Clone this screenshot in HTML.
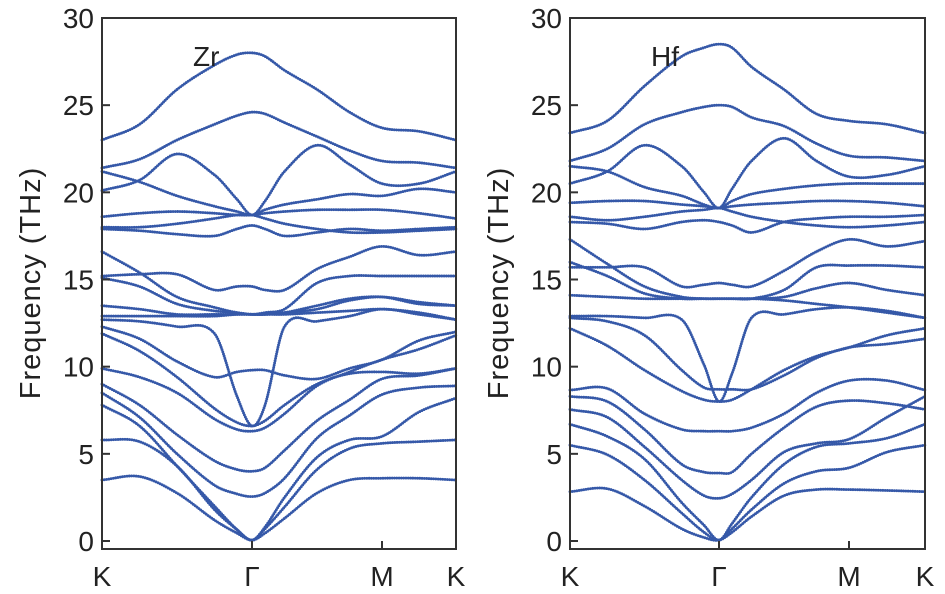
<!DOCTYPE html>
<html><head><meta charset="utf-8"><style>
html,body{margin:0;padding:0;background:#fff;}
svg{display:block;font-family:"Liberation Sans",Arial,sans-serif;}
</style></head><body>
<svg id="chart" width="945" height="594" viewBox="0 0 945 594" xmlns="http://www.w3.org/2000/svg"></svg>
<script>
// Shared data
const qPoints = [0, 0.25, 0.5, 0.75, 0.9, 1, 1.1, 1.25, 1.5, 1.75, 2, 2.5, 3];
const kLabels = ["K", "Γ", "M", "K"];
const yTicks = [0, 5, 10, 15, 20, 25, 30];

// Zr bands (THz) at qPoints
const zrBands = [
 [23.0,23.9,25.9,27.3,27.9,28.0,27.8,27.0,25.9,24.6,23.7,23.5,23.0],
 [21.4,21.9,23.0,23.9,24.4,24.6,24.5,24.0,23.2,22.4,21.8,21.7,21.4],
 [20.1,20.7,22.2,21.0,19.6,18.7,19.5,21.2,22.7,21.6,20.5,20.5,21.2],
 [21.2,20.6,19.8,19.2,18.9,18.7,19.0,19.3,19.6,19.9,19.8,20.2,20.0],
 [18.6,18.8,18.9,18.8,18.7,18.7,18.8,18.9,19.0,19.0,19.0,18.8,18.5],
 [18.0,18.0,18.2,18.5,18.7,18.7,18.5,18.2,17.9,17.7,17.7,17.8,17.9],
 [17.9,17.8,17.6,17.5,17.9,18.1,17.9,17.5,17.7,17.9,17.8,17.9,18.0],
 [16.6,15.4,14.0,13.4,13.1,13.0,13.0,13.1,13.3,13.8,14.0,13.7,13.5],
 [15.2,15.3,15.3,14.4,14.6,14.6,14.4,14.4,15.6,16.3,16.9,16.4,16.6],
 [15.1,14.6,13.6,13.2,13.1,13.0,13.1,13.3,14.8,15.2,15.2,15.2,15.2],
 [13.5,13.3,13.0,13.0,13.0,13.0,13.0,13.1,13.5,13.9,14.0,13.6,13.5],
 [12.9,12.9,12.9,12.9,13.0,13.0,13.0,13.0,13.1,13.2,13.3,13.1,12.7],
 [12.7,12.6,12.3,11.9,8.3,6.6,7.8,12.3,12.6,12.9,13.3,13.0,12.7],
 [12.3,11.6,10.3,9.4,9.7,9.8,9.8,9.5,9.3,9.9,10.4,11.5,12.0],
 [11.9,10.9,9.4,7.6,6.8,6.6,6.9,7.8,9.0,9.6,9.7,9.6,9.9],
 [9.9,9.4,8.5,7.0,6.4,6.3,6.5,7.3,8.9,9.7,10.4,11.0,11.8],
 [9.0,7.8,6.1,4.6,4.1,4.0,4.2,5.2,6.9,8.1,9.3,9.5,9.9],
 [8.5,7.1,5.0,3.2,2.7,2.55,2.75,3.6,5.9,7.2,8.4,8.8,8.9],
 [7.8,6.6,4.3,2.0,0.65,0.05,0.8,2.5,4.8,5.8,6.0,7.4,8.2],
 [5.8,5.7,4.3,1.8,0.65,0.05,0.7,1.95,4.1,5.3,5.6,5.7,5.8],
 [3.5,3.7,2.75,1.2,0.45,0.05,0.45,1.3,2.75,3.5,3.6,3.6,3.5]
];

// Hf bands (THz) at qPoints
const hfBands = [
 [23.4,24.1,26.1,27.8,28.3,28.5,28.3,27.2,25.9,24.5,24.1,23.9,23.4],
 [21.8,22.5,23.9,24.6,24.9,25.0,24.9,24.3,23.8,22.8,22.1,22.0,21.8],
 [20.5,21.2,22.7,21.5,20.0,19.1,20.2,21.8,23.1,21.8,20.9,21.0,21.5],
 [21.5,21.2,20.3,19.8,19.3,19.1,19.5,19.9,20.2,20.4,20.5,20.5,20.5],
 [19.4,19.5,19.5,19.3,19.2,19.1,19.2,19.3,19.4,19.5,19.5,19.4,19.2],
 [18.6,18.4,18.6,18.9,19.0,19.1,18.9,18.6,18.3,18.1,18.0,18.1,18.3],
 [18.3,18.2,17.9,18.3,18.4,18.3,18.1,17.7,18.3,18.5,18.6,18.6,18.7],
 [17.3,15.9,14.6,14.0,13.9,13.9,13.9,13.9,14.0,14.5,14.8,14.4,14.1],
 [15.7,15.7,15.7,14.6,14.7,14.8,14.7,14.6,15.5,16.6,17.3,16.9,17.2],
 [16.0,15.2,14.2,13.9,13.9,13.9,13.9,13.9,14.4,15.7,15.8,15.8,15.7],
 [14.1,14.0,13.9,13.9,13.9,13.9,13.9,13.9,13.8,13.6,13.4,13.1,12.8],
 [12.9,12.9,12.8,12.7,10.1,8.0,9.6,12.8,13.0,13.3,13.4,13.2,12.8],
 [12.8,12.6,11.8,9.8,8.8,8.7,8.7,8.7,9.5,10.5,11.1,11.3,11.6],
 [12.2,11.2,9.8,8.6,8.1,8.0,8.1,8.7,9.8,10.6,11.1,11.8,12.2],
 [8.66,8.75,7.3,6.4,6.3,6.3,6.3,6.5,7.3,8.5,9.2,9.2,8.66],
 [8.3,8.0,6.4,4.4,3.95,3.9,3.95,5.0,6.5,7.7,8.05,7.9,7.55],
 [7.55,7.1,5.4,3.5,2.6,2.45,2.7,3.5,5.1,5.6,5.84,7.1,8.3],
 [6.7,6.0,4.7,2.2,0.9,0.05,1.0,2.5,4.4,5.4,5.6,5.9,6.7],
 [5.5,4.95,3.5,1.6,0.5,0.05,0.7,1.8,3.3,4.0,4.2,5.1,5.5],
 [2.83,3.0,2.0,0.7,0.2,0.05,0.5,1.4,2.6,2.95,2.95,2.9,2.83]
];

const NS = "http://www.w3.org/2000/svg";
const svg = document.getElementById("chart");
function mk(tag, attrs, parent){
  const e = document.createElementNS(NS, tag);
  for (const k in attrs) e.setAttribute(k, attrs[k]);
  (parent || svg).appendChild(e);
  return e;
}

const panels = [
  {name:"zr", label:"Zr", labelX:193, bands:zrBands, x0:102, xG:252, xM:382, x1:456, titleX:30},
  {name:"hf", label:"Hf", labelX:651, bands:hfBands, x0:570, xG:719, xM:849, x1:925, titleX:498}
];
const yTop = 18, yBot = 549, y0 = 541, y30 = 18;
function yScale(f){ return y0 + (y30 - y0) * f / 30; }

panels.forEach(p => {
  const g = mk("g", {});
  
  
  function xScale(q){
    if (q <= 1) return p.x0 + (p.xG - p.x0) * q;
    if (q <= 2) return p.xG + (p.xM - p.xG) * (q - 1);
    return p.xM + (p.x1 - p.xM) * (q - 2);
  }
  const bg = mk("g", {}, g);
  
  
  p.bands.forEach((vals, bi) => {
    const pts = vals.map((v, i) => [xScale(qPoints[i]), yScale(v)]);
    const n = pts.length;
    const m = pts.map((pt, i) => {
      const a = pts[Math.max(0, i-1)], b = pts[Math.min(n-1, i+1)];
      return (b[1]-a[1]) / (b[0]-a[0]);
    });
    let d = "M" + pts[0][0].toFixed(2) + "," + pts[0][1].toFixed(2);
    for (let i = 0; i < n-1; i++){
      const dx = pts[i+1][0] - pts[i][0];
      d += " C" + (pts[i][0]+dx/3).toFixed(2) + "," + (pts[i][1]+m[i]*dx/3).toFixed(2) + " " +
           (pts[i+1][0]-dx/3).toFixed(2) + "," + (pts[i+1][1]-m[i+1]*dx/3).toFixed(2) + " " +
           pts[i+1][0].toFixed(2) + "," + pts[i+1][1].toFixed(2);
    }
    const path = mk("path", {d:d, fill:"none", stroke:"#3558a8", "stroke-width":"2.9",
      "stroke-linecap":"round", "stroke-dasharray":"0 2.3"}, bg);
    
    
  });
  const fr = mk("rect", {x:p.x0, y:yTop, width:p.x1-p.x0, height:yBot-yTop, fill:"none", stroke:"#333", "stroke-width":"2"}, g);
  
  
  yTicks.forEach(t => {
    const y = yScale(t);
    const tk = mk("line", {x1:p.x0, x2:p.x0+8, y1:y, y2:y, stroke:"#333", "stroke-width":"2"}, g);
    
    
    const tl = mk("text", {x:p.x0-8, y:y+10, "text-anchor":"end", "font-size":"28", fill:"#222"}, g);
    tl.textContent = t;
    
    
  });
  const xs = [p.x0, p.xG, p.xM, p.x1];
  xs.forEach((x, i) => {
    if (i === 1 || i === 2){
      const tk = mk("line", {x1:x, x2:x, y1:yBot, y2:yBot-8, stroke:"#333", "stroke-width":"2"}, g);
      
      
    }
    const tl = mk("text", {x:x, y:586, "text-anchor":"middle", "font-size":"28", fill:"#222"}, g);
    tl.textContent = kLabels[i];
    
    
  });
  const yt = mk("text", {x:0, y:0, "text-anchor":"middle", "font-size":"29", "letter-spacing":"1", fill:"#222",
    transform:"translate(" + (p.titleX+10) + ",283) rotate(-90)"}, g);
  yt.textContent = "Frequency (THz)";
  
  
  const pl = mk("text", {x:p.labelX, y:66, "font-size":"28", fill:"#222"}, g);
  pl.textContent = p.label;
  
  
});
</script>
</body></html>
